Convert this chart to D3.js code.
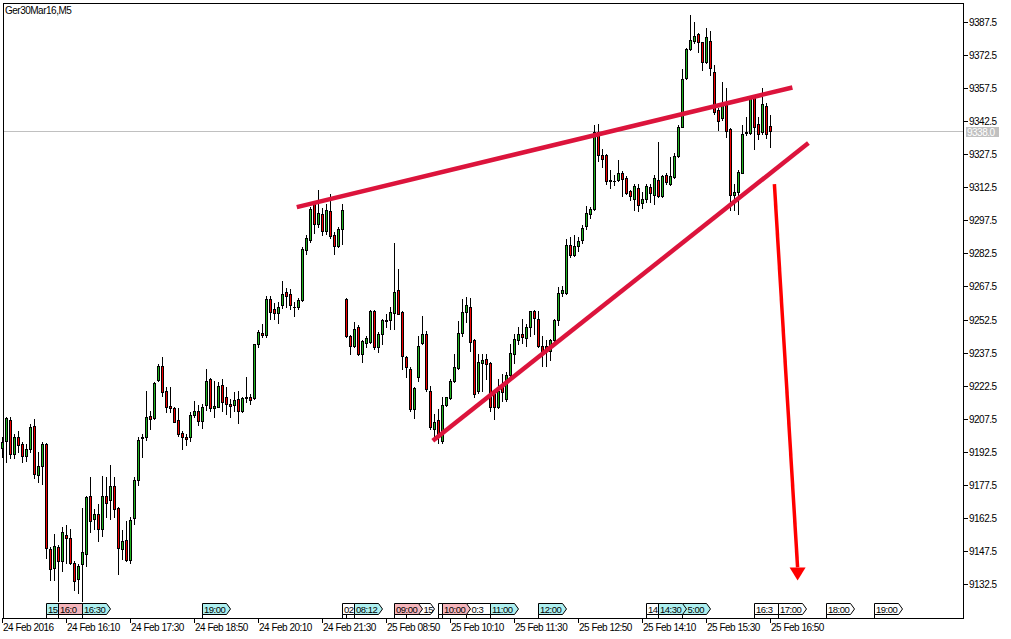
<!DOCTYPE html>
<html><head><meta charset="utf-8">
<script src="https://cdn.jsdelivr.net/npm/d3@7"></script>
<style>
html,body{margin:0;padding:0;background:#fff;}
text{font-family:"Liberation Sans",Arial,sans-serif;font-size:10px;letter-spacing:-0.5px;}
text.tag{font-size:9.5px;letter-spacing:-0.5px;}
</style></head>
<body><svg id="c" width="1011" height="639"></svg>
<script>
// ---- DATA ----
const title = "Ger30Mar16,M5";
const opens = [9194,9197.5,9206.9,9191.5,9199.4,9196.0,9190.4,9193.8,9204.4,9181.9,9186.2,9196.0,9148.3,9139.7,9149.4,9143.0,9154.8,9153.3,9141.9,9134.7,
9141.5,9146.0,9172.5,9161.9,9164.2,9157.4,9172.5,9170.6,9177.1,9167.2,9148.3,9152.4,9143.5,9162.4,9179.7,9198.6,9199.1,9208.9,9207.8,9225.1,
9231.6,9220.2,9213.3,9212.4,9206.9,9201.0,9199.4,9199.1,9209.4,9211.2,9206.6,9213.5,9225.3,9212.5,9213.0,9223.0,9217.2,9214.2,9213.7,9216.5,
9211.2,9217.0,9217.5,9216.9,9241.2,9246.6,9245.7,9261.6,9257.1,9255.5,9258.9,9265.1,9264.2,9258.4,9258.1,9261.5,9284.2,9288.7,9304.8,9296.0,
9300.5,9292.7,9301.6,9290.7,9285.7,9293.7,9261.6,9245.2,9240.4,9249.3,9236.7,9241.7,9242.5,9256.2,9240.0,9246.0,9251.8,9252.1,9255.4,9266.0,
9255.8,9235.7,9230.1,9211.9,9226.3,9241.8,9246.0,9220.2,9202.8,9206.9,9197.5,9213.9,9216.9,9224.5,9230.5,9246.4,9256.1,9258.4,9243.0,9220.2,
9233.0,9234.6,9232.8,9219.5,9213.0,9222.5,9216.5,9227.5,9236.9,9243.0,9246.0,9244.2,9249.0,9256.3,9252.8,9240.7,9240.4,9238.4,9243.3,9252.1,
9264.5,9264.5,9286.1,9281.6,9285.7,9288.4,9294.8,9300.2,9302.8,9337.6,9327.3,9327.1,9315.7,9315.5,9315.7,9319.2,9316.9,9310.7,9307.1,9312.3,
9305.4,9307.3,9312.7,9308.9,9316.0,9308.6,9318.3,9314.2,9317.2,9326.6,9340.0,9361.9,9375.1,9379.1,9382.1,9378.2,9369.2,9379.1,9364.7,9347.5,
9343.8,9349.8,9338.9,9309.2,9310.4,9319.2,9337.2,9337.2,9352.8,9341.0,9337.7,9349.5,9340.1];
const highs = [9199,9208.5,9208.5,9200.6,9202.1,9197.1,9196.0,9205.1,9207.4,9192.2,9196.8,9196.3,9149.1,9155.4,9150.3,9158.5,9159.4,9157.4,9143.0,9141.8,
9167.2,9172.5,9181.2,9166.5,9168.8,9181.6,9180.9,9186.6,9181.2,9167.5,9156.9,9161.2,9162.7,9181.2,9199.1,9200.6,9220.0,9211.2,9224.2,9232.4,
9235.4,9221.8,9222.1,9212.7,9212.4,9202.1,9200.6,9210.4,9215.7,9213.5,9214.2,9230.1,9226.0,9224.5,9224.0,9225.5,9221.8,9216.5,9219.8,9220.2,
9217.5,9226.3,9218.7,9241.5,9247.8,9250.6,9263.4,9263.4,9259.9,9260.4,9269.8,9266.9,9266.5,9260.4,9262.4,9285.4,9290.7,9303.6,9306.3,9311.2,
9303.3,9305.1,9309.6,9292.2,9294.5,9304.8,9262.4,9245.7,9251.3,9250.2,9243.0,9245.2,9256.6,9256.6,9246.8,9252.8,9255.1,9258.1,9287.0,9275.5,
9256.3,9236.1,9230.8,9221.7,9245.2,9254.3,9247.5,9222.5,9209.6,9211.9,9217.2,9217.5,9225.5,9236.9,9252.0,9261.9,9262.6,9262.3,9243.7,9236.9,
9236.9,9236.9,9233.1,9220.5,9225.5,9227.8,9228.6,9241.5,9246.0,9249.0,9252.8,9250.5,9256.3,9256.6,9256.3,9245.2,9243.0,9243.7,9252.8,9267.2,
9267.6,9289.2,9290.0,9290.7,9290.0,9295.2,9303.9,9303.6,9340.7,9341.1,9330.0,9327.8,9320.2,9318.0,9324.8,9319.8,9317.5,9311.1,9314.2,9314.2,
9310.4,9313.9,9314.0,9318.0,9333.2,9318.0,9319.0,9326.3,9328.2,9340.7,9366.0,9375.6,9390.7,9387.4,9382.4,9378.6,9384.6,9383.2,9368.0,9348.3,
9360.4,9357.4,9339.2,9314.2,9320.3,9340.7,9344.5,9353.3,9354.4,9344.5,9357.4,9350.6,9345.3];
const lows = [9190,9187.7,9189.7,9189.7,9192.2,9187.7,9188.2,9192.2,9180.6,9178.6,9177.8,9144.5,9134.2,9134.2,9125.0,9138.5,9142.2,9141.8,9129.7,9128.6,
9125.0,9140.7,9156.3,9157.4,9151.8,9154.1,9163.0,9161.9,9162.7,9137.2,9143.8,9143.0,9142.2,9159.7,9177.5,9190.3,9197.8,9202.8,9207.4,9224.8,
9218.0,9210.4,9210.4,9205.9,9199.8,9193.8,9195.7,9197.2,9208.1,9204.8,9203.3,9211.5,9211.2,9208.1,9212.7,9211.0,9209.6,9208.1,9211.0,9205.4,
9210.6,9215.0,9214.2,9216.5,9240.0,9244.5,9244.5,9252.8,9252.8,9250.9,9257.8,9258.1,9257.4,9254.3,9257.4,9260.9,9282.1,9287.7,9291.8,9294.5,
9290.7,9291.5,9289.6,9282.4,9285.4,9286.9,9244.5,9236.9,9239.9,9236.2,9233.1,9239.9,9241.8,9239.2,9237.7,9241.5,9249.0,9248.3,9248.3,9254.8,
9230.1,9226.3,9211.1,9207.8,9224.8,9241.2,9220.2,9202.8,9199.0,9196.7,9196.7,9213.4,9216.4,9224.0,9230.1,9245.2,9251.3,9238.4,9217.2,9219.0,
9220.2,9225.5,9211.1,9207.4,9212.3,9215.4,9215.7,9226.3,9232.6,9241.5,9241.8,9240.7,9244.8,9246.0,9240.0,9231.6,9231.6,9234.2,9241.2,9249.8,
9263.0,9264.2,9280.8,9281.1,9283.4,9287.2,9293.7,9298.7,9302.3,9324.5,9321.8,9314.2,9312.3,9313.4,9315.4,9308.4,9309.3,9306.9,9302.3,9301.7,
9303.3,9305.8,9306.0,9305.0,9308.2,9308.2,9314.2,9313.5,9316.5,9326.3,9339.7,9361.5,9374.8,9377.8,9374.0,9365.7,9368.8,9363.5,9345.7,9338.5,
9343.0,9335.1,9302.4,9302.1,9300.3,9318.8,9336.2,9336.6,9329.7,9334.2,9336.6,9334.7,9330.9];
const closes = [9197,9207.8,9191.5,9199.4,9195.6,9190.4,9193.8,9203.9,9182.4,9186.2,9196.0,9148.8,9139.2,9149.8,9143.0,9155.9,9153.3,9142.2,9133.9,9140.7,
9147.1,9171.8,9161.2,9164.2,9157.4,9172.5,9169.1,9177.1,9166.5,9148.8,9152.1,9143.3,9161.6,9179.7,9197.8,9199.1,9208.1,9207.4,9223.8,9231.6,
9219.5,9213.0,9212.2,9206.2,9200.6,9199.1,9198.2,9209.4,9210.9,9206.3,9213.0,9224.8,9212.4,9213.3,9222.5,9215.0,9214.2,9213.1,9216.2,9210.8,
9216.9,9217.5,9216.2,9241.2,9246.8,9245.6,9261.6,9255.9,9255.5,9258.0,9264.2,9263.1,9259.2,9258.1,9261.2,9284.6,9289.6,9302.5,9296.0,9301.0,
9292.7,9302.1,9290.4,9285.9,9293.7,9302.1,9244.9,9240.4,9248.3,9236.9,9242.7,9244.2,9256.2,9240.0,9246.0,9252.1,9252.5,9255.8,9265.0,9255.1,
9236.1,9231.1,9211.9,9221.3,9240.7,9246.0,9221.0,9203.6,9206.1,9199.0,9213.7,9217.2,9224.8,9230.8,9246.4,9256.1,9259.3,9242.2,9218.7,9233.1,
9234.2,9232.3,9213.0,9213.0,9220.2,9219.5,9227.5,9237.4,9243.7,9246.0,9244.5,9249.0,9256.3,9253.3,9240.7,9237.7,9238.4,9243.3,9252.1,9264.6,
9265.7,9286.4,9281.6,9285.7,9288.0,9294.2,9301.0,9302.8,9337.6,9327.1,9325.5,9315.4,9315.2,9315.2,9319.2,9316.4,9310.0,9308.4,9313.1,9304.3,
9307.3,9313.3,9310.0,9316.5,9308.6,9317.5,9314.7,9317.5,9326.6,9340.0,9361.5,9375.1,9379.4,9381.2,9378.2,9369.2,9380.9,9366.5,9346.8,9342.7,
9349.8,9338.2,9309.2,9310.4,9319.5,9336.9,9337.6,9352.8,9340.0,9336.9,9350.1,9336.6,9338.0];

const yTickValues = [9387.5,9372.5,9357.5,9342.5,9327.5,9312.5,9297.5,9282.5,9267.5,9252.5,9237.5,9222.5,9207.5,9192.5,9177.5,9162.5,9147.5,9132.5];
const xTickIndex = [0,16,32,48,64,80,96,112,128,144,160,176,192];
const xTickLabels = ["24 Feb 2016","24 Feb 16:10","24 Feb 17:30","24 Feb 18:50","24 Feb 20:10","24 Feb 21:30","25 Feb 08:50","25 Feb 10:10","25 Feb 11:30","25 Feb 12:50","25 Feb 14:10","25 Feb 15:30","25 Feb 16:50"];
const lastPrice = 9338.0;

// calendar event tags, listed bottom-to-top; text = the part left visible under the tags above
const eventIndex = [86,85,101,109,116,161,188,194,206,218,11,14,20,50,88,98,110,122,134,170,164];
const eventText  = ["","02","15","","0:3","14","16:3","17:00","18:00","19:00","15","16:0","16:30","19:00","08:12","09:00","10:00","11:00","12:00","5:00","14:30"];
const eventKind  = ["low","low","low","low","low","low","low","low","low","low","mid","high","mid","mid","mid","high","high","mid","mid","mid","mid"];

// drawn lines: [candle index, price]
const upperLine = [[73.7,9303.5],[197.6,9357.8]];
const lowerLine = [[107.7,9197.5],[201.6,9332.6]];
const arrowLine = [[193.1,9313.9],[198.9,9140.0]];

// ---- DRAW ----
const svg = d3.select("#c");
const x = d3.scaleLinear().domain([0,192]).range([2,770]);
const y = d3.scaleLinear().domain([9132.5,9387.5]).range([584,22]);
const R = v => Math.round(v);

svg.append("line").attr("x1",3).attr("x2",963)
  .attr("y1",R(y(lastPrice))+0.5).attr("y2",R(y(lastPrice))+0.5)
  .attr("stroke","#c0c0c0").attr("stroke-width",1);

const candles = opens.map((o,i)=>({i,o,h:highs[i],l:lows[i],c:closes[i]}));
const cg = svg.append("g").attr("shape-rendering","crispEdges");
const cs = cg.selectAll("g").data(candles).join("g");
cs.append("rect").attr("x",d=>x(d.i)).attr("width",1)
  .attr("y",d=>R(y(d.h))).attr("height",d=>R(y(d.l))-R(y(d.h))+1).attr("fill","#000");
cs.append("rect").attr("x",d=>x(d.i)-1).attr("width",3)
  .attr("y",d=>R(y(Math.max(d.o,d.c))))
  .attr("height",d=>R(y(Math.min(d.o,d.c)))-R(y(Math.max(d.o,d.c)))+1).attr("fill","#000");
cs.append("rect").attr("x",d=>x(d.i)).attr("width",1)
  .attr("y",d=>R(y(Math.max(d.o,d.c)))+1)
  .attr("height",d=>Math.max(0,R(y(Math.min(d.o,d.c)))-R(y(Math.max(d.o,d.c)))-1))
  .attr("fill",d=>d.c>=d.o?"#1fb31f":"#f00000");

const lg = d3.line().x(d=>x(d[0])).y(d=>y(d[1]));
svg.append("path").attr("d",lg(upperLine)).attr("stroke","#dc143c").attr("stroke-width",4.5).attr("fill","none");
svg.append("path").attr("d",lg(lowerLine)).attr("stroke","#dc143c").attr("stroke-width",4.5).attr("fill","none");
svg.append("path").attr("d",lg(arrowLine)).attr("stroke","#ff0000").attr("stroke-width",3.5).attr("fill","none");
{
  const ex=x(arrowLine[1][0]), ey=y(arrowLine[1][1]);
  svg.append("path").attr("d",`M${ex-8},${ey} L${ex+8},${ey} L${ex},${ey+13} Z`).attr("fill","#ff0000");
}

svg.append("rect").attr("x",3.5).attr("y",3.5).attr("width",960).attr("height",615)
  .attr("fill","none").attr("stroke","#000").attr("shape-rendering","crispEdges");

const ya = svg.append("g").attr("shape-rendering","crispEdges");
yTickValues.forEach(v=>{
  const yy=R(y(v))+0.5;
  ya.append("line").attr("x1",963).attr("x2",968).attr("y1",yy).attr("y2",yy).attr("stroke","#000");
  svg.append("text").attr("x",969).attr("y",R(y(v))+4).text(v.toFixed(1));
});
{
  const yy=R(y(lastPrice));
  svg.append("rect").attr("x",966).attr("y",yy-4).attr("width",33).attr("height",10).attr("fill","#c0c0c0");
  svg.append("text").attr("x",967).attr("y",yy+5).attr("fill","#fff").text(lastPrice.toFixed(1));
}

xTickIndex.forEach((ix,k)=>{
  const xx=x(ix)+0.5;
  svg.append("line").attr("x1",xx).attr("x2",xx).attr("y1",618).attr("y2",623).attr("stroke","#000").attr("shape-rendering","crispEdges");
  svg.append("text").attr("x",x(ix)+1).attr("y",631).text(xTickLabels[k]);
});

// event tags
const TW = 24, TA = 4;
const kindFill = {low:"#ffffff", mid:"#aef0f0", high:"#f5b5bb"};
eventIndex.forEach((ix,k)=>{
  const x0=x(ix)+0.5;
  let ts = x0+1.5;
  // text starts after any tag drawn above that covers the left part
  for (let pass=0; pass<3; pass++){
    eventIndex.forEach((jx,j)=>{
      if (j<=k) return;
      const xj=x(jx)+0.5;
      if (xj<=ts && ts<xj+TW+TA) ts = xj+TW+TA+1;
    });
  }
  const g=svg.append("g");
  g.append("line").attr("x1",x0).attr("x2",x0).attr("y1",614).attr("y2",618).attr("stroke","#000").attr("shape-rendering","crispEdges");
  g.append("path").attr("d",`M${x0},603.5 L${x0+TW},603.5 L${x0+TW+TA},609 L${x0+TW},614.5 L${x0},614.5 Z`)
    .attr("fill",kindFill[eventKind[k]]).attr("stroke","#000").attr("stroke-width",1);
  if (eventText[k]) g.append("text").attr("class","tag").attr("x",ts).attr("y",612.5).text(eventText[k]);
});

svg.append("text").attr("x",5).attr("y",14).text(title);
</script></body></html>
